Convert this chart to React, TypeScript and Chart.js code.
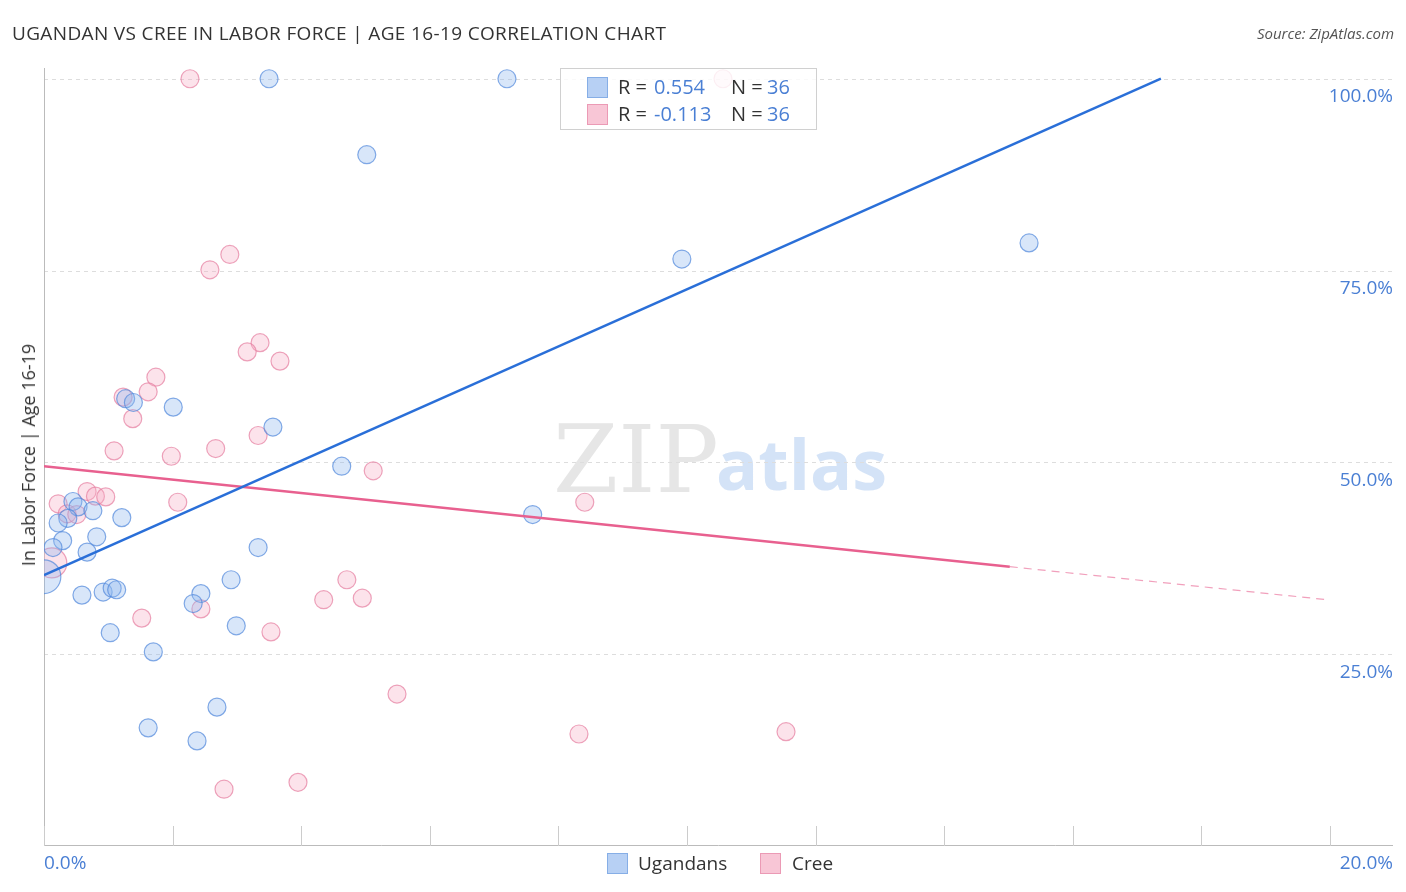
import React, { useEffect, useRef } from "react";
import { Chart, registerables } from "chart.js";
Chart.register(...registerables);

// ---- data (x: % Ugandan / Cree share, y: In Labor Force | Age 16-19 %) ----
const ugandanX = [3.5, 7.2, 5.02, 9.92, 15.32, 1.27, 1.39, 2.01, 3.56, 4.63, 7.6, 0.45, 0.53, 0.76, 0.37, 0.22, 1.21, 0.29, 0.82, 0.14, 0.67, 3.33, 0.0, 2.91, 0.59, 0.92, 1.06, 1.13, 2.44, 2.32, 2.99, 1.03, 1.7, 2.69, 1.62, 2.38];
const ugandanY = [100, 100, 90.1, 76.5, 78.6, 58.3, 57.8, 57.2, 54.6, 49.5, 43.2, 44.9, 44.2, 43.7, 42.7, 42.1, 42.8, 39.8, 40.3, 38.9, 38.3, 38.9, 35.1, 34.7, 32.7, 33.1, 33.6, 33.4, 32.9, 31.6, 28.7, 27.8, 25.3, 18.1, 15.4, 13.7];
const ugandanWeight = [1, 1, 1, 1, 1, 1, 1, 1, 1, 1, 1, 1, 1, 1, 1, 1, 1, 1, 1, 1, 1, 1, 3.5, 1, 1, 1, 1, 1, 1, 1, 1, 1, 1, 1, 1, 1];

const creeX = [2.27, 10.56, 2.89, 2.58, 3.36, 3.16, 3.67, 1.74, 1.62, 1.23, 1.38, 3.33, 1.09, 2.67, 1.98, 5.12, 2.08, 8.41, 0.67, 0.8, 0.96, 0.22, 0.36, 0.51, 0.12, 1.52, 2.44, 3.53, 4.35, 4.71, 4.95, 5.49, 8.32, 11.54, 2.8, 3.95];
const creeY = [100, 100, 77.1, 75.1, 65.6, 64.4, 63.2, 61.1, 59.2, 58.5, 55.7, 53.5, 51.5, 51.8, 50.8, 48.9, 44.8, 44.8, 46.2, 45.6, 45.5, 44.6, 43.3, 43.2, 36.9, 29.7, 30.9, 27.9, 32.1, 34.7, 32.3, 19.8, 14.6, 14.9, 7.4, 8.3];
const creeWeight = [1, 1, 1, 1, 1, 1, 1, 1, 1, 1, 1, 1, 1, 1, 1, 1, 1, 1, 1, 1, 1, 1, 1, 1, 2.8, 1, 1, 1, 1, 1, 1, 1, 1, 1, 1, 1];

// trend lines
const ugandanTrend = { intercept: 35.3, slope: 3.725, end: 17.37 };
const creeTrend = { intercept: 49.5, slope: -0.872, solidEnd: 15.02, dashEnd: 20 };

const xTicks = [0, 2, 4, 6, 8, 10, 12, 14, 16, 18, 20];
const yTicks = [25, 50, 75, 100];
const xRange = { min: 0, max: 20.98 };
const yRange = { min: 0, max: 101.4 };

const legendStats = [
  { r: "0.554", n: "36" },
  { r: "-0.113", n: "36" },
];

const BLUE_FILL = "rgba(140,182,238,0.34)";
const BLUE_BORDER = "rgba(80,135,220,0.7)";
const PINK_FILL = "rgba(246,172,196,0.34)";
const PINK_BORDER = "rgba(230,125,160,0.7)";
const TICK_COLOR = "#4a7fd4";

const decorPlugin = {
  id: "decor",
  beforeDatasetsDraw(chart: any) {
    const { ctx, chartArea, scales } = chart;
    const xs = scales.x;
    const ys = scales.y;
    ctx.save();
    // watermark
    ctx.textBaseline = "alphabetic";
    ctx.fillStyle = "rgba(205,205,205,0.5)";
    ctx.font = "94px 'DejaVu Serif', serif";
    ctx.textAlign = "left";
    ctx.fillText("ZIP", 553, 492);
    ctx.fillStyle = "rgba(170,200,240,0.5)";
    ctx.font = "bold 70px 'Open Sans', sans-serif";
    ctx.fillText("atlas", 716, 490);

    // horizontal dashed grid
    ctx.strokeStyle = "#dddddd";
    ctx.lineWidth = 1;
    ctx.setLineDash([4, 4]);
    for (const t of yTicks) {
      const y = Math.round(ys.getPixelForValue(t)) + 0.5;
      ctx.beginPath();
      ctx.moveTo(chartArea.left, y);
      ctx.lineTo(chartArea.right, y);
      ctx.stroke();
    }
    ctx.setLineDash([]);
    // axes
    ctx.strokeStyle = "#bbbbbb";
    ctx.beginPath();
    ctx.moveTo(chartArea.left + 0.5, chartArea.top);
    ctx.lineTo(chartArea.left + 0.5, chartArea.bottom);
    ctx.stroke();
    ctx.beginPath();
    ctx.moveTo(chartArea.left, chartArea.bottom - 0.5);
    ctx.lineTo(chartArea.right, chartArea.bottom - 0.5);
    ctx.stroke();
    // x ticks
    ctx.strokeStyle = "#cccccc";
    for (const t of xTicks) {
      const x = Math.round(xs.getPixelForValue(t)) + 0.5;
      ctx.beginPath();
      ctx.moveTo(x, chartArea.bottom - 20);
      ctx.lineTo(x, chartArea.bottom);
      ctx.stroke();
    }
    // tick labels
    ctx.fillStyle = TICK_COLOR;
    ctx.font = "19px 'Open Sans', sans-serif";
    ctx.textBaseline = "middle";
    ctx.textAlign = "right";
    for (const t of yTicks) {
      const y = ys.getPixelForValue(t) + 18;
      ctx.fillText(t.toFixed(1) + "%", chartArea.right, y);
    }
    ctx.textAlign = "left";
    ctx.fillText(xTicks[0].toFixed(1) + "%", chartArea.left, chartArea.bottom + 18);
    ctx.textAlign = "right";
    ctx.fillText(xTicks[xTicks.length - 1].toFixed(1) + "%", chartArea.right, chartArea.bottom + 18);
    ctx.restore();
  },
};

function ScatterChart() {
  const ref = useRef<HTMLCanvasElement | null>(null);
  useEffect(() => {
    if (!ref.current) return;
    const ugPts = ugandanX.map((x, i) => ({ x, y: ugandanY[i] }));
    const crPts = creeX.map((x, i) => ({ x, y: creeY[i] }));
    const chart = new Chart(ref.current, {
      type: "scatter",
      data: {
        datasets: [
          {
            type: "line",
            data: [
              { x: 0, y: ugandanTrend.intercept },
              { x: ugandanTrend.end, y: ugandanTrend.intercept + ugandanTrend.slope * ugandanTrend.end },
            ],
            borderColor: "#2a6fd8",
            borderWidth: 2.5,
            pointRadius: 0,
            fill: false,
            order: 0,
          } as any,
          {
            type: "line",
            data: [
              { x: 0, y: creeTrend.intercept },
              { x: creeTrend.solidEnd, y: creeTrend.intercept + creeTrend.slope * creeTrend.solidEnd },
            ],
            borderColor: "#e8608f",
            borderWidth: 2.5,
            pointRadius: 0,
            fill: false,
            order: 0,
          } as any,
          {
            type: "line",
            data: [
              { x: creeTrend.solidEnd, y: creeTrend.intercept + creeTrend.slope * creeTrend.solidEnd },
              { x: creeTrend.dashEnd, y: creeTrend.intercept + creeTrend.slope * creeTrend.dashEnd },
            ],
            borderColor: "rgba(232,96,143,0.6)",
            borderWidth: 1.2,
            borderDash: [8, 6],
            pointRadius: 0,
            fill: false,
            order: 0,
          } as any,
          {
            label: "Cree",
            data: crPts,
            backgroundColor: PINK_FILL,
            borderColor: PINK_BORDER,
            borderWidth: 1.2,
            pointRadius: creeWeight.map((w) => 9 * Math.sqrt(w)),
            order: 2,
          },
          {
            label: "Ugandans",
            data: ugPts,
            backgroundColor: BLUE_FILL,
            borderColor: BLUE_BORDER,
            borderWidth: 1.2,
            pointRadius: ugandanWeight.map((w) => 9 * Math.sqrt(w)),
            order: 1,
          },
        ],
      },
      options: {
        animation: false,
        responsive: false,
        maintainAspectRatio: false,
        devicePixelRatio: 1,
        layout: { autoPadding: false, padding: { left: 44, right: 13, top: 68, bottom: 46 } },
        plugins: { legend: { display: false }, tooltip: { enabled: false } },
        scales: {
          x: { type: "linear", display: false, min: xRange.min, max: xRange.max },
          y: { type: "linear", display: false, min: yRange.min, max: yRange.max },
        },
      },
      plugins: [decorPlugin],
    });
    return () => chart.destroy();
  }, []);
  return <canvas ref={ref} width={1406} height={892} style={{ position: "absolute", left: 0, top: 0 }} />;
}

const font = "'Open Sans', 'Noto Sans', sans-serif";

export default function App() {
  return (
    <div style={{ position: "fixed", left: 0, top: 0, width: 1406, height: 892, background: "#fff", overflow: "hidden", fontFamily: font }}>
      <ScatterChart />
      <div style={{ position: "absolute", left: 12, top: 20, fontSize: 19, color: "#333", letterSpacing: 0.35, whiteSpace: "nowrap" }}>
        UGANDAN VS CREE IN LABOR FORCE | AGE 16-19 CORRELATION CHART
      </div>
      <div style={{ position: "absolute", right: 12, top: 23, fontSize: 15, color: "#555", fontStyle: "italic" }}>
        Source: ZipAtlas.com
      </div>
      <div
        style={{
          position: "absolute",
          left: 18,
          top: 455,
          transform: "translate(-50%, -50%) rotate(-90deg)",
          transformOrigin: "center",
          fontSize: 18,
          color: "#333",
          whiteSpace: "nowrap",
          marginLeft: 10,
        }}
      >
        In Labor Force | Age 16-19
      </div>
      {/* top stats legend */}
      <div
        style={{
          position: "absolute",
          left: 560,
          top: 68,
          width: 257,
          height: 62,
          border: "1px solid #d0d0d0",
          background: "rgba(255,255,255,0.82)",
          boxSizing: "border-box",
        }}
      >
        {legendStats.map((s, i) => (
          <div key={i} style={{ position: "absolute", left: 0, top: 6 + i * 27, height: 24, width: "100%", fontSize: 20, lineHeight: "24px", color: "#333" }}>
            <span
              style={{
                position: "absolute",
                left: 26,
                top: 2,
                width: 21,
                height: 21,
                background: i === 0 ? "#b7d0f4" : "#f8c6d6",
                border: "1px solid " + (i === 0 ? "#86aee6" : "#eb9ab5"),
                boxSizing: "border-box",
              }}
            />
            <span style={{ position: "absolute", left: 57 }}>R =</span>
            <span style={{ position: "absolute", left: 93, color: TICK_COLOR }}>{s.r}</span>
            <span style={{ position: "absolute", left: 170 }}>N =</span>
            <span style={{ position: "absolute", left: 206, color: TICK_COLOR }}>{s.n}</span>
          </div>
        ))}
      </div>
      {/* bottom legend */}
      <div style={{ position: "absolute", left: 0, top: 851, width: 1406, height: 24, fontSize: 19, lineHeight: "24px", color: "#333" }}>
        <span style={{ position: "absolute", left: 607, top: 2, width: 21, height: 21, background: "#b7d0f4", border: "1px solid #86aee6", boxSizing: "border-box" }} />
        <span style={{ position: "absolute", left: 638 }}>Ugandans</span>
        <span style={{ position: "absolute", left: 760, top: 2, width: 21, height: 21, background: "#f8c6d6", border: "1px solid #eb9ab5", boxSizing: "border-box" }} />
        <span style={{ position: "absolute", left: 792 }}>Cree</span>
      </div>
    </div>
  );
}
